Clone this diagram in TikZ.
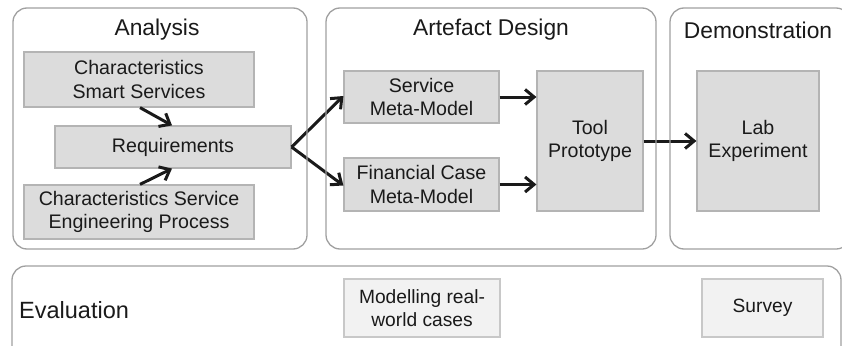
\documentclass[tikz,border=0pt]{standalone}
\usepackage{fontspec}
\setmainfont{Liberation Sans}
\usetikzlibrary{arrows.meta}
\definecolor{boxfill}{HTML}{DCDCDC}
\definecolor{boxline}{HTML}{B4B4B4}
\definecolor{evalfill}{HTML}{F2F2F2}
\definecolor{evalline}{HTML}{C8C8C8}
\definecolor{frameline}{HTML}{A0A0A0}
\definecolor{ink}{HTML}{1A1A1A}
\tikzset{
  phase/.style={draw=frameline, line width=1.3pt, rounded corners=14pt},
  title/.style={font=\fontsize{22.8}{27}\selectfont, text=ink, inner sep=0pt},
  gbox/.style={draw=boxline, fill=boxfill, line width=1.2pt, inner sep=0pt,
    align=center, text=ink, font=\fontsize{19.6}{23.5}\selectfont},
  ebox/.style={draw=evalline, fill=evalfill, line width=1.2pt, inner sep=0pt,
    align=center, text=ink, font=\fontsize{19.2}{23}\selectfont},
  flow/.style={draw=ink, line width=3pt,
    -{Straight Barb[length=9pt,width=15pt,line width=3pt]}},
}
\begin{document}
\begin{tikzpicture}[x=1pt,y=-1pt]
\useasboundingbox (0,0) rectangle (842,345);
\clip (0,0) rectangle (842,345);

\node[title] (tAna) at (157,30) {Analysis};
\node[title] (tArt) at (491,30) {Artefact Design};
\node[title] (tDem) at (758,30) {Demonstration};
\node[title, anchor=west, font=\fontsize{23.5}{28}\selectfont] (tEva) at (19,310) {Evaluation};

% analysis
\node[gbox, minimum width=230pt, minimum height=55pt] (css) at (139,79.5)
  {Characteristics\\Smart Services};
\node[gbox, minimum width=236pt, minimum height=42pt] (req) at (173,147)
  {Requirements};
\node[gbox, minimum width=230pt, minimum height=54pt] (cse) at (139,212)
  {Characteristics Service\\Engineering Process};

% artefact design
\node[gbox, minimum width=155pt, minimum height=52pt] (smm) at (421.5,97)
  {Service\\Meta-Model};
\node[gbox, minimum width=155pt, minimum height=53pt] (fmm) at (421.5,184.5)
  {Financial Case\\Meta-Model};
\node[gbox, minimum width=106pt, minimum height=140pt] (tool) at (590,141)
  {Tool\\Prototype};

% demonstration
\node[gbox, minimum width=122pt, minimum height=140pt] (lab) at (758,141)
  {Lab\\Experiment};

% evaluation
\node[ebox, minimum width=156pt, minimum height=58pt] (mrw) at (422,308)
  {Modelling real-\\world cases};
\node[ebox, minimum width=121pt, minimum height=58pt] (srv) at (762.5,308)
  {Survey};

% connectors
\draw[flow] ([xshift=1pt]css.south) -- ([xshift=-1pt]req.north);
\draw[flow] ([xshift=1pt]cse.north) -- ([xshift=-1pt]req.north |- req.south);
\coordinate (fork) at (req.east);
\draw[flow] (fork) -- ([yshift=1pt]smm.west);
\draw[flow] (fork) -- ([yshift=-1pt]fmm.west);
\draw[flow] (smm.east) -- (smm.east -| tool.west);
\draw[flow] (fmm.east) -- (fmm.east -| tool.west);
\draw[flow] (tool.east) -- (lab.west);

% phase frames, drawn over the connectors
\draw[phase] (13,8) rectangle (307,249);
\draw[phase] (326,8) rectangle (656,249);
\draw[phase] (670,8) rectangle (850,249);
\draw[phase] (12,266) rectangle (841,370);
\end{tikzpicture}
\end{document}
